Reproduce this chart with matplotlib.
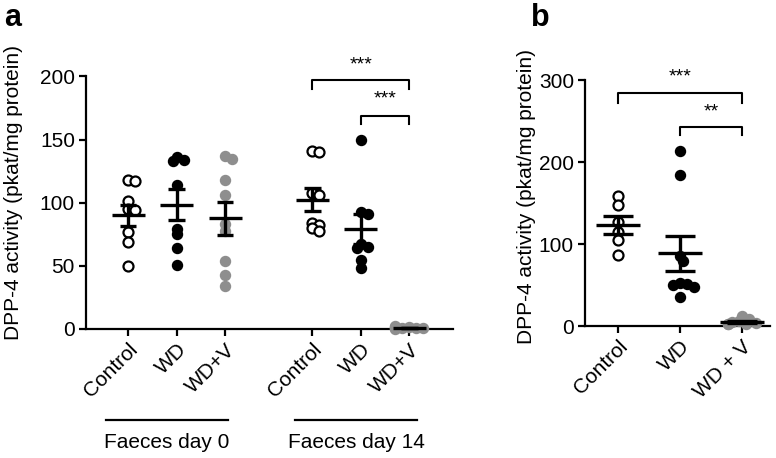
import numpy as np
import matplotlib
matplotlib.use("Agg")
import matplotlib.pyplot as plt

plt.rcParams['font.family'] = ['Liberation Sans', 'DejaVu Sans']

# panel a: DPP-4 activity in faeces
labels_a = ["Control", "WD", "WD+V", "Control", "WD", "WD+V"]
pos_a = [0, 1, 2, 3.8, 4.8, 5.8]
ctrl_d0 = [118, 117, 101, 95, 94, 77, 69, 50]
wd_d0 = [136, 134, 133, 114, 79, 75, 64, 51]
wdv_d0 = [137, 135, 118, 106, 83, 78, 54, 43, 34]
ctrl_d14 = [141, 140, 108, 106, 84, 82, 80, 78]
wd_d14 = [150, 93, 91, 67, 65, 64, 55, 48]
wdv_d14 = [1.5, 1.0, 0.8, 0.5, 1.2, 0.3, 2.0, 0.6]
groups_a = [ctrl_d0, wd_d0, wdv_d0, ctrl_d14, wd_d14, wdv_d14]
styles_a = ["open", "black", "grey", "open", "black", "grey"]

# panel b
labels_b = ["Control", "WD", "WD + V"]
ctrl_b = [159, 148, 127, 115, 105, 87]
wd_b = [214, 184, 85, 79, 52, 51, 50, 48, 35]
wdv_b = [12, 8, 6, 5, 4, 3, 3, 2]
groups_b = [ctrl_b, wd_b, wdv_b]
styles_b = ["open", "black", "grey"]

GREY = "#8e8e8e"
MS = 7.2
FS = 15


def swarm_offsets(ax, x0, vals, diam):
    # loose beeswarm in pixel space, points may overlap a bit
    pts = ax.transData.transform([(x0, v) for v in vals])
    unit = ax.transData.transform([(x0 + 1, 0)])[0, 0] - ax.transData.transform([(x0, 0)])[0, 0]
    placed = []
    offs = []
    for y in pts[:, 1]:
        for k in [0, 1, -1, 2, -2, 3, -3, 4, -4]:
            xo = k * diam * 0.35
            ok = all((xo - px) ** 2 + (y - py) ** 2 >= (diam * 0.5) ** 2 for px, py in placed)
            if ok:
                break
        placed.append((xo, y))
        offs.append(x0 + xo / unit)
    return offs


def draw_group(ax, x0, vals, style, half, cap):
    diam = MS * ax.figure.dpi / 72
    xs = swarm_offsets(ax, x0, vals, diam)
    if style == "open":
        ax.plot(xs, vals, 'o', ms=MS, mfc='white', mec='black', mew=1.6, ls='none', clip_on=False, zorder=3)
    elif style == "black":
        ax.plot(xs, vals, 'o', ms=MS, mfc='black', mec='black', ls='none', clip_on=False, zorder=3)
    else:
        ax.plot(xs, vals, 'o', ms=MS, mfc=GREY, mec=GREY, ls='none', clip_on=False, zorder=3)
    m = np.mean(vals)
    sem = np.std(vals, ddof=1) / np.sqrt(len(vals))
    kw = dict(color='black', lw=2.4, solid_capstyle='butt', zorder=4, clip_on=False)
    ax.plot([x0 - half, x0 + half], [m, m], **kw)
    ax.plot([x0, x0], [m - sem, m + sem], **kw)
    ax.plot([x0 - cap, x0 + cap], [m + sem, m + sem], **kw)
    ax.plot([x0 - cap, x0 + cap], [m - sem, m - sem], **kw)


def bracket(ax, x1, x2, y, drop, stars, ty):
    ax.plot([x1, x1, x2, x2], [y - drop, y, y, y - drop], color='black', lw=1.5, clip_on=False)
    ax.text((x1 + x2) / 2, ty, stars, ha='center', va='center', fontsize=14)


def style_axes(ax):
    for s in ['top', 'right']:
        ax.spines[s].set_visible(False)
    for s in ['left', 'bottom']:
        ax.spines[s].set_linewidth(1.6)
    ax.tick_params(axis='both', width=1.6, length=5, labelsize=FS, direction='out', pad=3)


fig = plt.figure(figsize=(7.76, 4.58), dpi=100)

# ---- panel a
ax = fig.add_axes([86 / 776, 1 - 329 / 458, (453 - 86) / 776, (329 - 55) / 458])
ax.set_xlim(-0.87, 6.7)
ax.set_ylim(0, 217)
style_axes(ax)
ax.spines['left'].set_bounds(0, 200)
ax.set_yticks([0, 50, 100, 150, 200])
ax.set_xticks(pos_a)
ax.set_xticklabels(labels_a, rotation=45, ha='right', va='top', rotation_mode='anchor')
ax.set_ylabel("DPP-4 activity (pkat/mg protein)", fontsize=FS, labelpad=12)
for x0, vals, st in zip(pos_a, groups_a, styles_a):
    draw_group(ax, x0, vals, st, 0.34, 0.17)
bracket(ax, pos_a[3], pos_a[5], 197, 7, "***", 209)
bracket(ax, pos_a[4], pos_a[5], 169, 7, "***", 182)

tr = ax.get_xaxis_transform()
ax.plot([-0.45, 2.05], [-0.332, -0.332], color='black', lw=1.6, transform=tr, clip_on=False)
ax.plot([3.45, 5.95], [-0.332, -0.332], color='black', lw=1.6, transform=tr, clip_on=False)
ax.text(0.8, -0.415, "Faeces day 0", transform=tr, ha='center', va='center', fontsize=FS)
ax.text(4.7, -0.415, "Faeces day 14", transform=tr, ha='center', va='center', fontsize=FS)

# ---- panel b
bx = fig.add_axes([585 / 776, 1 - 326 / 458, (770 - 585) / 776, (326 - 68) / 458])
bx.set_xlim(-0.53, 2.45)
bx.set_ylim(0, 315)
style_axes(bx)
bx.spines['left'].set_bounds(0, 300)
bx.set_yticks([0, 100, 200, 300])
bx.set_xticks([0, 1, 2])
bx.set_xticklabels(labels_b, rotation=45, ha='right', va='top', rotation_mode='anchor')
bx.set_ylabel("DPP-4 activity (pkat/mg protein)", fontsize=FS, labelpad=2)
for x0, vals, st in zip([0, 1, 2], groups_b, styles_b):
    draw_group(bx, x0, vals, st, 0.35, 0.24)
bracket(bx, 0, 2, 284, 12, "***", 304)
bracket(bx, 1, 2, 243, 10, "**", 261)

fig.text(4 / 776, 1 - 18 / 458, "a", fontsize=22, fontweight='bold', va='center')
fig.text(531 / 776, 1 - 18 / 458, "b", fontsize=22, fontweight='bold', va='center')

fig.savefig("out.png", dpi=100)
